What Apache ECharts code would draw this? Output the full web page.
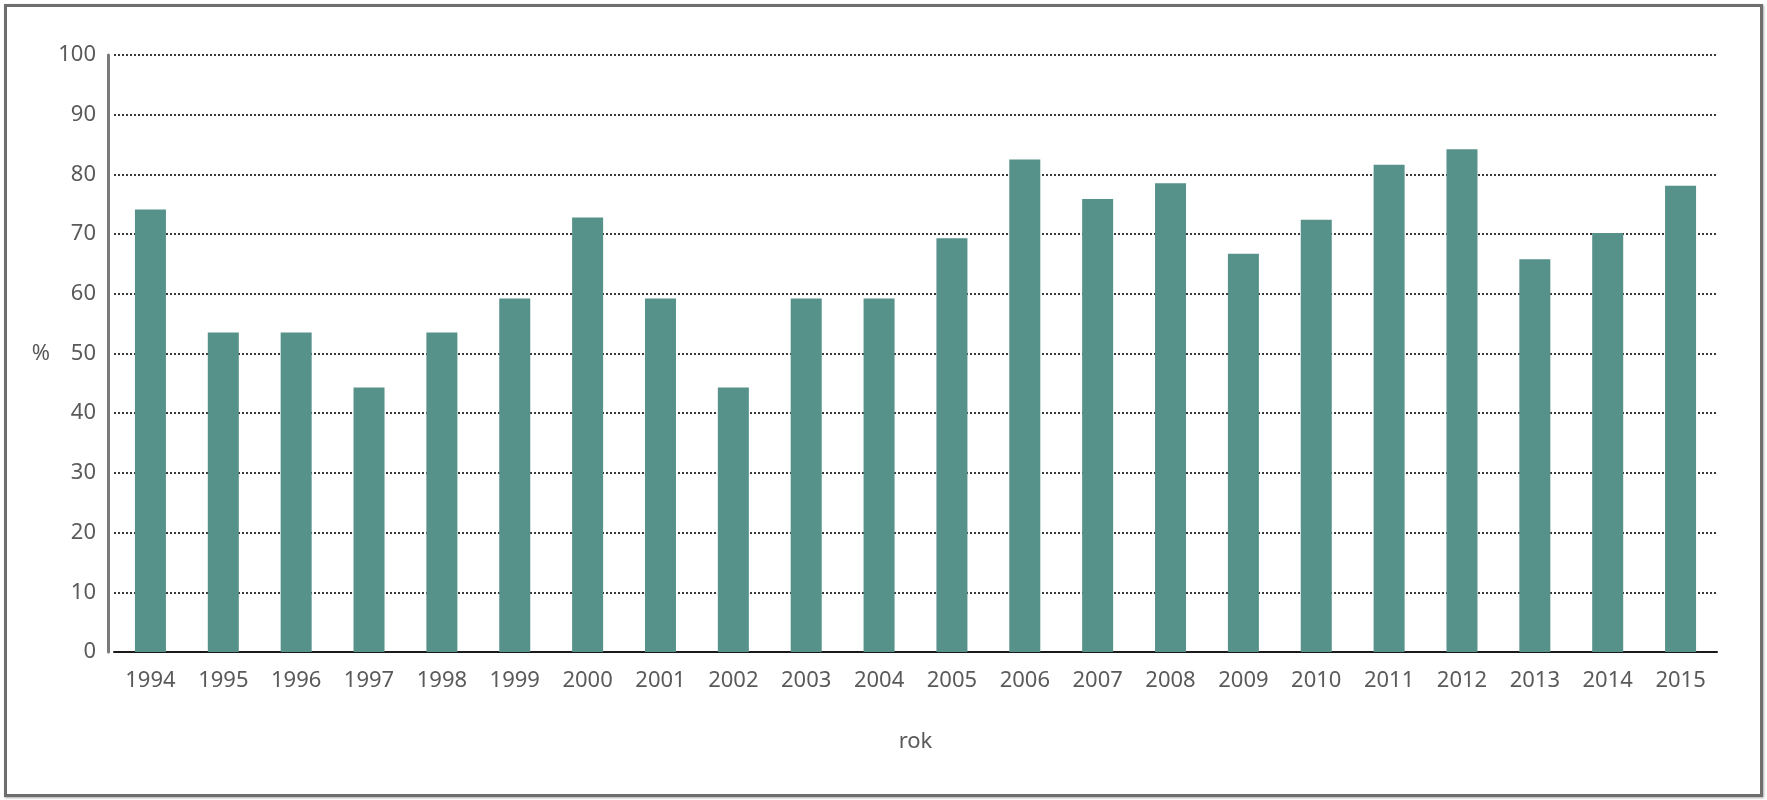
<!DOCTYPE html>
<html lang="cs" style="height: 100%">
<head>
  <meta charset="utf-8">
  <style>
    body { margin: 0; height: 100%; background: #fff; }
    #frame { position: absolute; left: 4px; top: 4px; width: 1753px; height: 787px;
             border: 3px solid #6e6e6e; box-shadow: 1px 1px 2px #aaa; pointer-events: none; }
    #container { position: absolute; left: 0; top: 0; width: 1767px; height: 800px; }
  </style>
</head>
<body>
  <div id="container"></div>
  <div id="frame"></div>

  <script type="text/javascript" src="https://fastly.jsdelivr.net/npm/echarts@6/dist/echarts.min.js"></script>
  <script type="text/javascript">
    var years = ['1994', '1995', '1996', '1997', '1998', '1999', '2000', '2001', '2002', '2003', '2004',
                 '2005', '2006', '2007', '2008', '2009', '2010', '2011', '2012', '2013', '2014', '2015'];
    var percent = [74.1, 53.5, 53.5, 44.3, 53.5, 59.2, 72.8, 59.2, 44.3, 59.2, 59.2,
                   69.3, 82.5, 75.9, 78.5, 66.7, 72.4, 81.6, 84.2, 65.8, 70.2, 78.1];
    var yTicks = [0, 10, 20, 30, 40, 50, 60, 70, 80, 90, 100];

    var dom = document.getElementById('container');
    var myChart = echarts.init(dom, null, { renderer: 'canvas' });
    var font = '"Noto Sans", "Open Sans", sans-serif';

    var option = {
      animation: false,
      grid: { left: 114, right: 50, top: 55, bottom: 148 },
      xAxis: {
        type: 'category',
        data: years,
        name: 'rok',
        nameLocation: 'middle',
        nameGap: 79,
        nameTextStyle: { color: '#5a5a5a', fontSize: 22, fontFamily: font },
        axisLine: { lineStyle: { color: '#1a1a1a', width: 2 } },
        axisTick: { show: false },
        axisLabel: { color: '#5a5a5a', fontSize: 22, fontFamily: font, margin: 18 }
      },
      yAxis: {
        type: 'value',
        min: yTicks[0],
        max: yTicks[yTicks.length - 1],
        interval: 10,
        offset: 6,
        name: '%',
        nameLocation: 'middle',
        nameRotate: 0,
        nameGap: 58,
        nameTextStyle: { color: '#5a5a5a', fontSize: 22, fontFamily: font },
        axisLine: { show: true, lineStyle: { color: '#7a7a7a', width: 3 } },
        axisTick: { show: false },
        axisLabel: { color: '#5a5a5a', fontSize: 22, fontFamily: font, margin: 12 },
        splitLine: { lineStyle: { color: '#3a3a3a', type: 'dotted', width: 2 } }
      },
      series: [{
        type: 'bar',
        data: percent,
        barWidth: 31,
        itemStyle: { color: '#56918a' }
      }]
    };

    myChart.setOption(option);
    window.addEventListener('resize', myChart.resize);
  </script>
</body>
</html>
